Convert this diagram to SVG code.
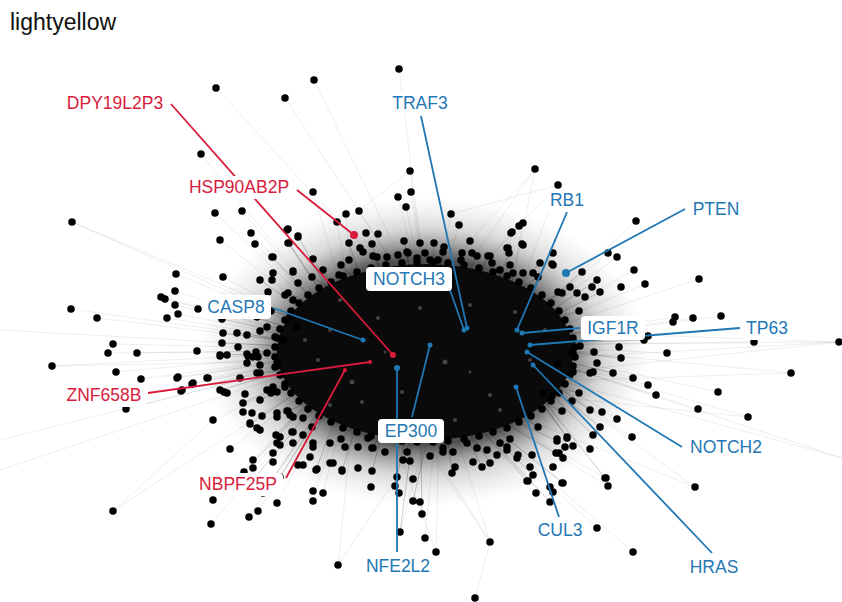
<svg xmlns="http://www.w3.org/2000/svg" width="842" height="602" viewBox="0 0 842 602">
<defs>
<radialGradient id="halo" cx="0.5" cy="0.5" r="0.5">
<stop offset="0" stop-color="#111" stop-opacity="1"/>
<stop offset="0.6" stop-color="#333" stop-opacity="0.85"/>
<stop offset="0.8" stop-color="#888" stop-opacity="0.32"/>
<stop offset="1" stop-color="#bbb" stop-opacity="0"/>
</radialGradient>
</defs>
<style>
.lbl{font-family:"Liberation Sans",Arial,sans-serif;font-size:17.5px;text-anchor:middle}
.red{fill:#d81b3c}
.blue{fill:#1f77b4}
.box{fill:#fff}
.edge{fill:none;stroke:#000;stroke-opacity:0.09;stroke-width:0.8}
.edge2{fill:none;stroke:#000;stroke-opacity:0.25;stroke-width:0.8}
.dots{fill:none;stroke:#000;stroke-width:7.5;stroke-linecap:round}
.rl{stroke:#d81b3c;stroke-width:1.8;fill:none}
.bl{stroke:#1f77b4;stroke-width:1.8;fill:none}
</style>
<rect width="842" height="602" fill="#fff"/>
<text x="10" y="30" font-family="Liberation Sans,Arial,sans-serif" font-size="23" fill="#111">lightyellow</text>

<g id="connectors">
<ellipse cx="425" cy="352" rx="225" ry="155" fill="url(#halo)"/>
<path class="edge" d="M216 88L430 320M285 98L430 320M201 154L360 350M314 80L430 320M399 69L430 320M410 171L430 320M313 192L360 350M411 192L430 320M398 197L430 320M406 207L430 320M359 211L430 320M346 214L360 350M337 222L360 350M451 214L430 320M459 225L430 320M535 169L500 345M535 169L430 320M558 185L500 345M558 185L430 320M523 223L500 345M519 226L430 320M511 233L500 345M470 241L430 320M410 171L359 211M558 185L451 214M535 169L470 241
M636 221L500 345M608 253L500 345M617 257L500 345M634 270L500 345M699 279L500 345M645 284L500 345M721 316L500 345M693 318L500 345M675 317L500 345M754 342L500 345M839 342L500 345M839 342L440 385M839 342L500 330M839 342L520 360M667 353L500 345M791 373L500 345M791 373L440 385M718 392L500 345M656 395L500 345M648 385L500 345M633 378L500 345M698 409L500 345M748 417L500 345M748 417L440 385M695 487L440 385M695 487L500 345M632 437L500 345M606 478L440 385M608 486L440 385M617 419L500 345M842 458L500 345M842 458L520 370
M597 528L440 385M633 552L440 385M490 542L440 385M490 542L360 350M490 542L400 400M475 598L490 542M338 565L360 350M338 565L397 477M400 532L440 385M425 538L440 385M436 552L440 385M436 552L360 350M313 491L360 350M313 501L360 350M323 493L360 350M211 524L360 350M213 500L360 350M249 517L360 350M258 511L360 350M277 503L360 350M253 468L360 350M273 462L360 350M230 449L360 350M213 420L360 350M113 511L360 350M113 511L213 420M0 440L360 350M0 470L360 350
M72 222L360 350M215 213L360 350M242 211L360 350M251 233L360 350M255 244L360 350M220 240L360 350M176 274L360 350M223 277L360 350M175 291L360 350M161 297L360 350M165 299L360 350M175 305L360 350M178 314L360 350M167 318L360 350M71 309L360 350M97 318L360 350M113 344L360 350M108 353L360 350M137 353L360 350M52 366L360 350M52 366L360 360M116 372L360 350M141 379L360 350M177 378L360 350M192 384L360 350M181 391L360 350M126 409L360 350M193 383L360 350M178 377L360 350M182 390L360 350M208 378L360 350M72 222L330 330M0 330L360 350"/>
<path class="edge2" d="M220 390L360 350M227 355L360 350M247 354L360 350M243 403L360 350M250 424L360 350M260 400L360 350M222 319L360 350M223 333L360 350M222 343L360 350M237 333L360 350M247 315L360 350M253 300L360 350M260 280L360 350M272 257L360 350M288 243L360 350M298 236L360 350M298 283L360 350M293 300L360 350M244 472L360 350M253 480L360 350M263 493L360 350M280 477L360 350M276 435L360 350M316 470L360 350M342 471L380 350M372 471L400 370M395 486L420 370M413 501L440 385M452 473L440 385M482 467L440 385M527 481L440 385M550 502L440 385M563 483L440 385M605 478L500 345M593 435L500 345M600 427L500 345M572 401L500 345M590 410L500 345M613 373L500 345M621 358L500 345M644 340L500 345M600 292L500 345M597 280L500 345M570 287L500 345M582 272L500 345M553 253L500 345M540 263L480 330M509 253L480 330M488 256L460 330M461 260L440 320M434 243L430 320M404 241L420 330M372 244L400 330M349 243L380 340M323 270L370 340M313 259L370 340M289 243L360 350M573 446L500 345M567 437L500 345M557 441L440 385M556 453L440 385M533 475L440 385M490 463L440 385M422 514L420 380M400 532L420 380
M594 352L425 352M590 373L425 352M579 393L425 352M562 411L425 352M538 427L425 352M510 439L425 352M477 448L425 352M443 452L425 352M407 452L425 352M373 448L425 352M341 439L425 352M312 427L425 352M288 411L425 352M271 393L425 352M260 373L425 352M256 352L425 352M260 331L425 352M271 311L425 352M288 293L425 352M312 277L425 352M341 265L425 352M373 256L425 352M407 252L425 352M443 252L425 352M477 256L425 352M510 265L425 352M538 277L425 352M562 293L425 352M579 311L425 352M590 331L425 352"/>
<ellipse cx="425" cy="352" rx="148" ry="88" fill="#0a0a0a"/>
</g>

<g id="nodes">
<path class="dots" d="M216 88h0M285 98h0M201 154h0M314 80h0M399 69h0M410 171h0M313 192h0M411 192h0M398 197h0M406 207h0M359 211h0M346 214h0M337 222h0M451 214h0M459 225h0M535 169h0M558 185h0M523 223h0M519 226h0M511 233h0M470 241h0M366 233h0M378 234h0M349 243h0M372 244h0M360 248h0M404 241h0M420 243h0M434 243h0M444 247h0M522 244h0M507 248h0M509 253h0M553 253h0M488 256h0M552 264h0M582 272h0M461 260h0M472 253h0M477 256h0M462 253h0M298 237h0M288 229h0M289 243h0M313 259h0M273 257h0M293 272h0M323 270h0M339 275h0M349 260h0M363 252h0M377 257h0M387 257h0M398 255h0M408 253h0M417 258h0M425 253h0M430 260h0M438 260h0M492 263h0M500 270h0M513 273h0M523 273h0M533 273h0M540 263h0
M636 221h0M608 253h0M617 257h0M634 270h0M699 279h0M645 284h0M621 287h0M597 280h0M600 292h0M721 316h0M693 318h0M675 317h0M673 322h0M754 342h0M839 342h0M667 353h0M648 336h0M644 340h0M791 373h0M718 392h0M656 395h0M633 378h0M648 385h0M621 358h0M619 347h0M597 363h0M593 372h0M573 353h0M573 340h0M512 232h0M523 245h0M508 248h0M490 256h0M553 265h0M570 287h0M592 287h0M577 293h0M585 297h0M558 292h0M613 373h0M698 409h0M748 417h0M572 401h0M590 410h0M617 419h0M600 427h0M593 435h0M632 437h0M567 437h0M573 446h0M590 449h0M557 441h0M563 458h0M606 478h0M608 486h0M695 487h0M562 483h0M543 393h0M552 396h0M558 363h0M572 353h0M580 346h0M602 412h0M573 372h0
M597 528h0M633 552h0M490 542h0M475 598h0M533 475h0M532 455h0M517 458h0M507 450h0M500 443h0M550 487h0M553 492h0M550 502h0M536 493h0M528 481h0M553 467h0M557 439h0M567 438h0M556 453h0M338 565h0M400 532h0M425 538h0M436 552h0M313 491h0M323 493h0M313 501h0M371 487h0M395 486h0M413 479h0M397 477h0M399 493h0M413 501h0M420 502h0M422 514h0M452 473h0M455 467h0M482 467h0M490 463h0M527 481h0M563 483h0M605 478h0M292 432h0M303 435h0M316 470h0M342 471h0M358 468h0M372 471h0M333 463h0M372 448h0M385 452h0M368 438h0M358 447h0M345 447h0M330 443h0M313 443h0M293 443h0M403 460h0M410 461h0M430 456h0M443 448h0M453 452h0M467 443h0M473 462h0M487 450h0M497 455h0M507 447h0M518 455h0M530 467h0M565 447h0M559 453h0M290 415h0
M213 420h0M230 449h0M213 500h0M211 524h0M249 517h0M258 511h0M277 503h0M253 468h0M273 462h0M243 403h0M243 412h0M252 413h0M250 424h0M257 428h0M262 416h0M277 417h0M287 411h0M293 417h0M303 418h0M280 437h0M277 443h0M293 432h0M303 435h0M313 447h0M310 457h0M298 465h0M303 465h0M317 469h0M330 463h0M342 470h0M220 390h0M227 393h0M208 378h0M193 383h0M178 377h0M182 390h0M227 355h0M220 356h0M247 354h0M247 363h0M258 357h0M260 365h0M277 363h0M267 390h0M277 392h0M260 400h0M285 387h0M72 222h0M215 213h0M242 211h0M251 233h0M255 244h0M220 240h0M176 274h0M223 277h0M175 291h0M161 297h0M165 299h0M175 305h0M178 314h0M167 318h0M71 309h0M97 318h0M113 344h0M108 353h0M137 353h0M52 366h0M116 372h0M141 379h0M177 378h0M192 384h0M181 391h0M126 409h0M113 511h0M260 280h0M272 280h0M273 273h0M272 257h0M288 243h0M287 230h0M298 236h0M293 271h0M298 283h0M268 292h0M285 295h0M222 319h0M223 333h0M222 343h0M220 355h0M237 333h0M247 335h0M238 347h0M248 356h0M197 351h0M198 309h0M207 378h0M240 378h0M224 392h0M245 394h0M250 423h0M260 430h0M277 413h0M273 387h0M275 367h0M257 373h0M253 357h0M267 353h0M283 340h0M267 327h0M275 337h0M247 315h0M257 317h0M233 315h0M260 300h0M253 300h0M293 300h0M290 317h0M297 327h0M276 435h0M280 445h0M273 453h0M253 460h0M244 472h0M253 480h0M263 493h0M280 477h0
M575 357h0M573 366h0M570 375h0M565 384h0M559 393h0M551 401h0M542 409h0M531 416h0M519 422h0M507 428h0M493 432h0M479 436h0M464 439h0M448 441h0M433 442h0M417 442h0M402 441h0M386 439h0M371 436h0M357 432h0M343 428h0M331 422h0M319 416h0M308 409h0M299 401h0M291 393h0M285 384h0M280 375h0M277 366h0M275 357h0M275 347h0M277 338h0M280 329h0M285 320h0M291 311h0M299 303h0M308 295h0M319 288h0M331 282h0M343 276h0M357 272h0M371 268h0M386 265h0M402 263h0M417 262h0M433 262h0M448 263h0M464 265h0M479 268h0M493 272h0M507 276h0M519 282h0M531 288h0M542 295h0M551 303h0M559 311h0M565 320h0M570 329h0M573 338h0M575 347h0
M594 352h0M590 373h0M579 393h0M562 411h0M538 427h0M510 439h0M477 448h0M443 452h0M407 452h0M373 448h0M341 439h0M312 427h0M288 411h0M271 393h0M260 373h0M256 352h0M260 331h0M271 311h0M288 293h0M312 277h0M341 265h0M373 256h0M407 252h0M443 252h0M477 256h0M510 265h0M538 277h0M562 293h0M579 311h0M590 331h0"/>
<g fill="#444">
<circle cx="330" cy="330" r="2"/><circle cx="352" cy="382" r="2.5"/><circle cx="378" cy="318" r="2"/><circle cx="402" cy="392" r="2"/><circle cx="445" cy="362" r="2.5"/><circle cx="470" cy="305" r="2"/><circle cx="490" cy="395" r="2"/><circle cx="515" cy="312" r="2"/><circle cx="362" cy="402" r="2"/><circle cx="420" cy="308" r="2"/><circle cx="385" cy="352" r="1.5"/><circle cx="470" cy="372" r="1.5"/><circle cx="318" cy="360" r="2"/><circle cx="530" cy="360" r="2"/><circle cx="305" cy="340" r="2"/><circle cx="340" cy="300" r="2"/><circle cx="500" cy="410" r="2"/><circle cx="545" cy="330" r="2"/><circle cx="455" cy="420" r="2"/><circle cx="330" cy="405" r="2"/>
</g>
</g>

<g id="leaders">
<path class="rl" d="M171 104L393 355M297 190L354 235M148 393L370 362M286 478L345 370"/>
<path class="bl" d="M421 116L467 328M567 212L517 330M685 209L566 273M273 308L363 340M580 328L522 333M740 328L530 345M682 447L527 352M712 553L533 365M559 517L516 387M412 417L430 345M397 552L397 368M450 290L464 330"/>
<g fill="#d81b3c"><circle cx="393" cy="355" r="3"/><circle cx="354" cy="235" r="4"/><circle cx="370" cy="362" r="2"/><circle cx="345" cy="370" r="2"/></g>
<g fill="#1f77b4"><circle cx="566" cy="273" r="4"/><circle cx="467" cy="328" r="2.5"/><circle cx="517" cy="330" r="2.5"/><circle cx="363" cy="340" r="2.5"/><circle cx="522" cy="333" r="2.5"/><circle cx="530" cy="345" r="2.5"/><circle cx="527" cy="352" r="2.5"/><circle cx="533" cy="365" r="2.5"/><circle cx="516" cy="387" r="2.5"/><circle cx="430" cy="345" r="2.5"/><circle cx="397" cy="368" r="3"/><circle cx="464" cy="330" r="2.5"/></g>
</g>

<g id="label-DPY19L2P3"><rect class="box" x="62" y="92" width="106" height="23" rx="4"/><text class="lbl red" x="115" y="109">DPY19L2P3</text></g>
<g id="label-HSP90AB2P"><rect class="box" x="185" y="176" width="108" height="23" rx="4"/><text class="lbl red" x="239" y="193">HSP90AB2P</text></g>
<g id="label-ZNF658B"><rect class="box" x="61" y="384" width="85" height="23" rx="4"/><text class="lbl red" x="104" y="401">ZNF658B</text></g>
<g id="label-NBPF25P"><rect class="box" x="194" y="473" width="89" height="23" rx="4"/><text class="lbl red" x="238" y="490">NBPF25P</text></g>
<g id="label-TRAF3"><rect class="box" x="388" y="92" width="64" height="23" rx="4"/><text class="lbl blue" x="420" y="109">TRAF3</text></g>
<g id="label-RB1"><rect class="box" x="546" y="189" width="42" height="23" rx="4"/><text class="lbl blue" x="567" y="206">RB1</text></g>
<g id="label-PTEN"><rect class="box" x="688" y="198" width="56" height="23" rx="4"/><text class="lbl blue" x="716" y="215">PTEN</text></g>
<g id="label-NOTCH3"><rect class="box" x="366" y="267" width="86" height="24" rx="4"/><text class="lbl blue" x="409" y="285">NOTCH3</text></g>
<g id="label-CASP8"><rect class="box" x="202" y="295" width="69" height="24" rx="4"/><text class="lbl blue" x="236" y="313">CASP8</text></g>
<g id="label-IGF1R"><rect class="box" x="581" y="316" width="64" height="24" rx="4"/><text class="lbl blue" x="613" y="334">IGF1R</text></g>
<g id="label-TP63"><rect class="box" x="742" y="317" width="50" height="23" rx="4"/><text class="lbl blue" x="767" y="334">TP63</text></g>
<g id="label-NOTCH2"><rect class="box" x="686" y="436" width="80" height="23" rx="4"/><text class="lbl blue" x="726" y="453">NOTCH2</text></g>
<g id="label-EP300"><rect class="box" x="378" y="419" width="66" height="24" rx="4"/><text class="lbl blue" x="411" y="437">EP300</text></g>
<g id="label-CUL3"><rect class="box" x="535" y="519" width="51" height="23" rx="4"/><text class="lbl blue" x="560" y="536">CUL3</text></g>
<g id="label-NFE2L2"><rect class="box" x="362" y="555" width="72" height="23" rx="4"/><text class="lbl blue" x="398" y="572">NFE2L2</text></g>
<g id="label-HRAS"><rect class="box" x="686" y="556" width="56" height="23" rx="4"/><text class="lbl blue" x="714" y="573">HRAS</text></g>
</svg>
